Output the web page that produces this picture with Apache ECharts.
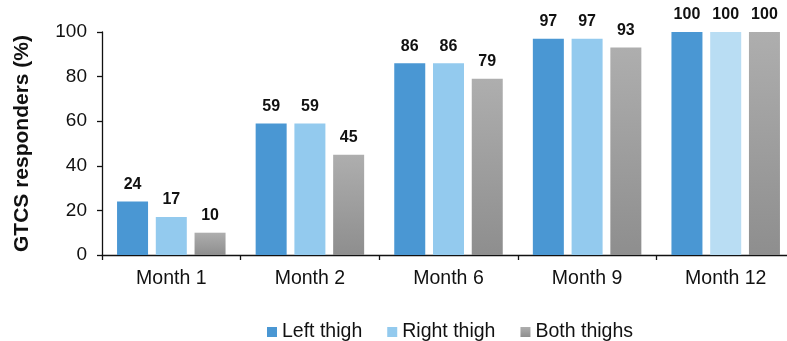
<!DOCTYPE html>
<html>
<head>
<meta charset="utf-8">
<script src="https://cdn.jsdelivr.net/npm/echarts@6/dist/echarts.min.js"></script>
<style>
  html, body { margin: 0; padding: 0; background: #fff; }
  #chart { width: 787px; height: 341px; }
</style>
</head>
<body>
<div id="chart"></div>
<script>
const categories = ['Month 1', 'Month 2', 'Month 6', 'Month 9', 'Month 12'];
const leftThigh = [24, 59, 86, 97, 100];
const rightThigh = [17, 59, 86, 97, 100];
const bothThighs = [10, 45, 79, 93, 100];
const seriesNames = ['Left thigh', 'Right thigh', 'Both thighs'];
const yTicks = [0, 20, 40, 60, 80, 100];

const FONT = '"Liberation Sans", Arial, sans-serif';
const grayFill = new echarts.graphic.LinearGradient(0, 0, 0, 1, [
  { offset: 0, color: '#AEAEAE' },
  { offset: 1, color: '#8E8E8E' }
]);

const labelStyle = {
  show: true,
  position: 'top',
  distance: 9,
  color: '#111',
  fontFamily: FONT,
  fontWeight: 'bold',
  fontSize: 16
};

const chart = echarts.init(document.getElementById('chart'));
chart.setOption({
  animation: false,
  textStyle: { fontFamily: FONT },
  grid: {
    left: 102, width: 693, top: 32, height: 223,
    containLabel: false,
    outerBoundsMode: 'none'
  },
  legend: {
    data: seriesNames,
    top: 317,
    left: 262,
    itemWidth: 10,
    itemHeight: 10,
    itemGap: 25,
    icon: 'rect',
    textStyle: { fontSize: 19.5, color: '#111', fontFamily: FONT }
  },
  xAxis: {
    type: 'category',
    data: categories,
    axisLine: { lineStyle: { color: '#111', width: 1.3 } },
    axisTick: { show: true, length: 5, lineStyle: { color: '#111', width: 1.3 } },
    axisLabel: { fontSize: 19.5, color: '#111', margin: 14, fontFamily: FONT }
  },
  yAxis: {
    type: 'value',
    min: yTicks[0],
    max: yTicks[yTicks.length - 1],
    interval: 20,
    name: 'GTCS responders (%)',
    nameLocation: 'middle',
    nameGap: 69,
    nameTextStyle: { fontSize: 21, fontWeight: 'bold', color: '#111', fontFamily: FONT },
    axisLine: { show: true, lineStyle: { color: '#111', width: 1.3 } },
    axisTick: { show: true, length: 5, lineStyle: { color: '#111', width: 1.3 } },
    axisLabel: { fontSize: 19, color: '#111', margin: 15, fontFamily: FONT },
    splitLine: { show: false }
  },
  series: [
    {
      name: seriesNames[0],
      type: 'bar',
      data: leftThigh,
      barWidth: 31,
      barGap: '25%',
      itemStyle: { color: '#4A97D3' },
      label: labelStyle
    },
    {
      name: seriesNames[1],
      type: 'bar',
      data: rightThigh.map((v, i) => i === rightThigh.length - 1
        ? { value: v, itemStyle: { color: '#B9DDF3' } }
        : v),
      barWidth: 31,
      barGap: '25%',
      itemStyle: { color: '#93CAEE' },
      label: labelStyle
    },
    {
      name: seriesNames[2],
      type: 'bar',
      data: bothThighs,
      barWidth: 31,
      barGap: '25%',
      itemStyle: { color: grayFill },
      label: labelStyle
    }
  ]
});
</script>
</body>
</html>
